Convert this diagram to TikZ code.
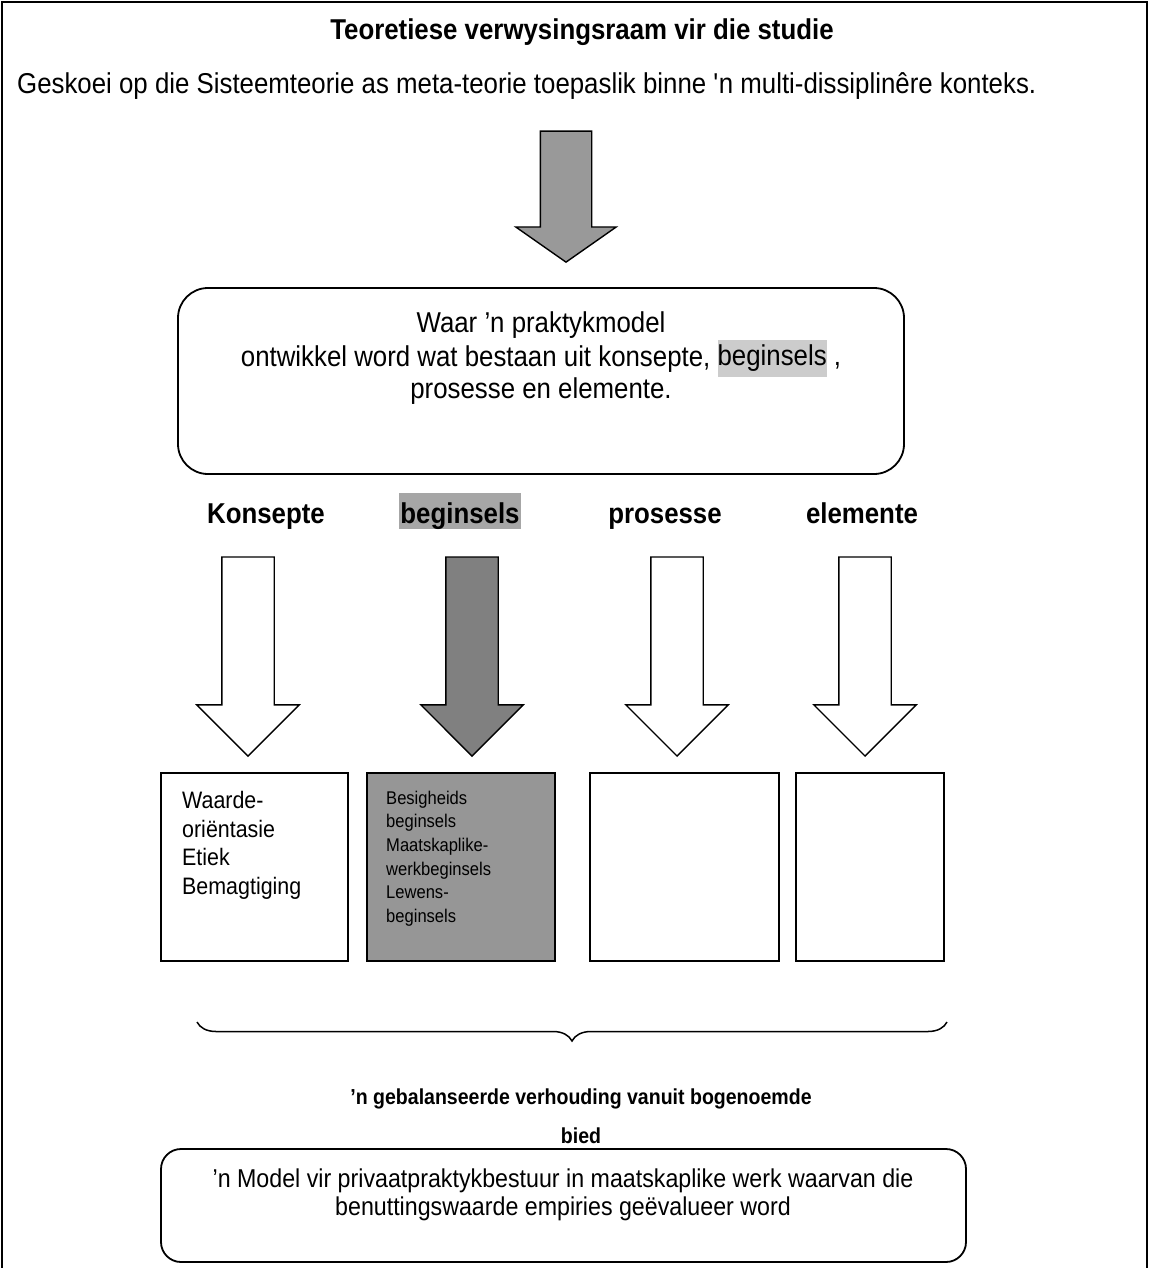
\documentclass[tikz,border=0pt]{standalone}
\usepackage{fontspec}
\setmainfont{Liberation Sans}[FakeStretch=0.9]
\usetikzlibrary{shapes.arrows,decorations.pathreplacing}

\definecolor{pylgrys}{gray}{0.6}
\definecolor{donkerpyl}{gray}{0.5}
\definecolor{hokgrys}{gray}{0.59}
\definecolor{etiketgrys}{gray}{0.65}
\definecolor{teksgrys}{gray}{0.8}

\newcommand{\grootletter}{\fontsize{28.7}{33}\selectfont}
\newcommand{\hokletter}{\fontsize{23.8}{28.5}\selectfont}
\newcommand{\kleinletter}{\fontsize{18.4}{23.7}\selectfont}
\newcommand{\balansletter}{\fontsize{21.7}{26}\selectfont}
\newcommand{\modelletter}{\fontsize{25.8}{28}\selectfont}
\newcommand{\uitlig}[1]{{\setlength{\fboxsep}{0pt}\colorbox{teksgrys}{\rule[-11pt]{0pt}{37pt}#1}}}

\tikzset{
  teks/.style={inner sep=0pt},
  etiket/.style={teks, font=\grootletter\bfseries, anchor=base},
  blokpyl/.style={single arrow, draw, line width=1.4pt, shape border rotate=270,
    single arrow head extend=25pt, inner sep=25.5pt, anchor=tip,
    minimum height=199pt},
  hokkie/.style={draw, line width=2pt, minimum height=188pt, inner sep=0pt},
  rondhok/.style={draw, line width=1.8pt, inner sep=0pt},
}

\begin{document}
\begin{tikzpicture}[x=1pt,y=-1pt]
    \useasboundingbox (0,0) rectangle (1150,1268);
    \draw[line width=2.2pt] (2,1270) -- (2,2) -- (1147,2) -- (1147,1270);

    \node[teks, font=\grootletter\bfseries, anchor=base] (titel) at (582,40)
        {Teoretiese verwysingsraam vir die studie};
    \node[teks, font=\grootletter, anchor=base west] (meta) at (17,94)
        {Geskoei op die Sisteemteorie as meta-teorie toepaslik binne \textquotesingle n multi-dissiplinêre konteks.};

    \node[blokpyl, fill=pylgrys, single arrow tip angle=110, inner sep=25pt,
        single arrow head extend=24.5pt, minimum height=131pt] (metapyl) at (566,263) {};

    \node[rondhok, rounded corners=30pt, minimum width=726pt, minimum height=186pt] (praktyk) at (541,381) {};
    \node[teks, font=\grootletter, align=center, anchor=north] (praktykteks) at (541,312)
        {Waar ’n praktykmodel\\ ontwikkel word wat bestaan uit konsepte, \uitlig{beginsels} ,\\ prosesse en elemente.};

    \node[etiket] (konsepte) at (266,523) {Konsepte};
    \node[etiket, fill=etiketgrys, inner xsep=1pt, text height=30pt, text depth=6pt] (beginsels) at (460,523) {beginsels};
    \node[etiket] (prosesse) at (665,523) {prosesse};
    \node[etiket] (elemente) at (862,523) {elemente};

    \node[blokpyl, fill=white] (konseppyl) at (248,757) {};
    \node[blokpyl, fill=donkerpyl] (beginselpyl) at (472,757) {};
    \node[blokpyl, fill=white] (prosespyl) at (677,757) {};
    \node[blokpyl, fill=white] (elementpyl) at (865,757) {};

    \node[hokkie, minimum width=187pt] (konsephok) at (254.5,867) {};
    \node[hokkie, minimum width=188pt, fill=hokgrys] (beginselhok) at (461,867) {};
    \node[hokkie, minimum width=189pt] (proseshok) at (684.5,867) {};
    \node[hokkie, minimum width=148pt] (elementhok) at (870,867) {};

    \node[teks, font=\hokletter, align=left, anchor=north west] (konsepteks) at (182,791.5)
        {Waarde-\\oriëntasie\\Etiek\\Bemagtiging};
    \node[teks, font=\kleinletter, align=left, anchor=north west] (beginselteks) at (386,790.5)
        {Besigheids\\beginsels\\Maatskaplike-\\werkbeginsels\\Lewens-\\beginsels};

    \coordinate (krulL) at (197,1022);
    \coordinate (krulR) at (947,1022);
    \draw[line width=1.5pt, decorate, decoration={brace, mirror, amplitude=19pt}] (krulL) -- (krulR);

    \node[teks, font=\balansletter\bfseries, anchor=base] (balans) at (581,1104)
        {’n gebalanseerde verhouding vanuit bogenoemde};
    \node[teks, font=\balansletter\bfseries, anchor=base] (bied) at (581,1143) {bied};

    \node[rondhok, rounded corners=20pt, minimum width=805pt, minimum height=113pt] (model) at (563.5,1205.5) {};
    \node[teks, font=\modelletter, align=center, anchor=north] (modelteks) at (563,1169)
        {’n Model vir privaatpraktykbestuur in maatskaplike werk waarvan die\\ benuttingswaarde empiries geëvalueer word};
\end{tikzpicture}
\end{document}
